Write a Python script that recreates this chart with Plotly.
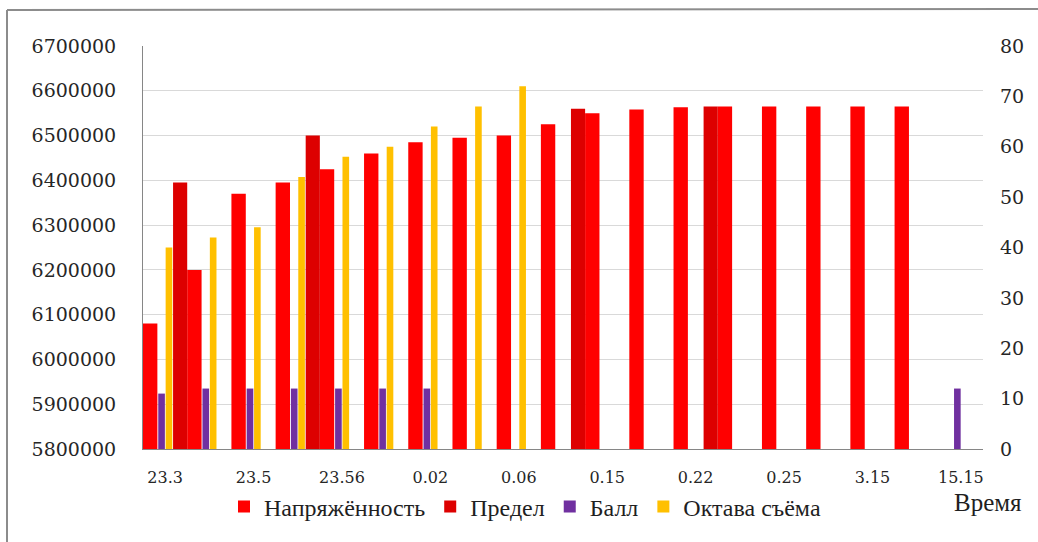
import plotly.graph_objects as go

# Time points (every other one is labelled on the axis)
time_labels = ["23.3", "23.5", "23.56", "0.02", "0.06", "0.15", "0.22", "0.25", "3.15", "15.15"]
positions = list(range(19))

# Primary axis series
napryazhennost = [6080000, 6200000, 6370000, 6395000, 6425000, 6460000, 6485000, 6495000,
                  6500000, 6525000, 6550000, 6558000, 6563000, 6565000, 6565000, 6565000,
                  6565000, 6565000, None]
predel = [6395000, None, None, 6500000, None, None, None, None, None, 6560000,
          None, None, 6565000, None, None, None, None, None, None]

# Secondary axis series
ball = [11, 12, 12, 12, 12, 12, 12, None, None, None, None, None, None, None,
        None, None, None, None, 12]
oktava = [40, 42, 44, 54, 58, 60, 64, 68, 72, None, None, None, None, None,
          None, None, None, None, None]

TICK_FONT = dict(family="DejaVu Serif", size=19, color="#262626")
TEXT_FONT = dict(family="Liberation Serif", size=24, color="#1f1f1f")

fig = go.Figure()
fig.add_bar(x=positions, y=napryazhennost, name="Напряжённость",
            marker=dict(color="#FF0000", line_width=0), offset=-0.5, width=0.325)
fig.add_bar(x=positions, y=predel, name="Предел",
            marker=dict(color="#DD0000", line_width=0), offset=0.18, width=0.32)
fig.add_bar(x=positions, y=ball, name="Балл", yaxis="y2",
            marker=dict(color="#7030A0", line_width=0), offset=-0.155, width=0.15)
fig.add_bar(x=positions, y=oktava, name="Октава съёма", yaxis="y2",
            marker=dict(color="#FFC000", line_width=0), offset=0.012, width=0.15)

W, H = 1038, 542
L, R, T, B = 143, 55, 46, 93
pw, ph = W - L - R, H - T - B


def px(x):
    return (x - L) / pw


def py(y):
    return (H - B - y) / ph


fig.update_layout(
    width=W, height=H,
    margin=dict(l=L, r=R, t=T, b=B),
    paper_bgcolor="white", plot_bgcolor="white",
    barmode="overlay",
    xaxis=dict(range=[-0.5, 18.5], tickmode="array",
               tickvals=positions[::2], ticktext=time_labels,
               showgrid=False, zeroline=False, showline=True,
               linecolor="#868686", linewidth=1, ticks="",
               ticklabelstandoff=14,
               tickfont=dict(family="DejaVu Serif", size=16, color="#262626")),
    yaxis=dict(range=[5800000, 6700000], dtick=100000, tickformat="d",
               showgrid=True, gridcolor="#D9D9D9", gridwidth=1,
               zeroline=False, showline=True, linecolor="#868686", linewidth=1,
               ticks="", ticklabelstandoff=22, tickfont=TICK_FONT),
    yaxis2=dict(range=[0, 80], dtick=10, overlaying="y", side="right",
                showgrid=False, zeroline=False, showline=False, ticks="",
                ticklabelstandoff=16, tickfont=TICK_FONT),
    legend=dict(orientation="h", x=px(224), xanchor="left",
                y=py(507), yanchor="middle", font=TEXT_FONT,
                bgcolor="rgba(0,0,0,0)", itemwidth=30, traceorder="normal"),
    showlegend=True,
    annotations=[dict(text="Время", xref="paper", yref="paper",
                      x=px(1024), y=py(502), xanchor="right", yanchor="middle",
                      showarrow=False, font=dict(family="Liberation Serif", size=25,
                                                 color="#1f1f1f"))],
    shapes=[
        dict(type="line", xref="paper", yref="paper", x0=px(7), x1=px(1040),
             y0=py(10), y1=py(9), line=dict(color="#8c8c8c", width=2)),
        dict(type="line", xref="paper", yref="paper", x0=px(7), x1=px(7),
             y0=py(10), y1=py(545), line=dict(color="#8c8c8c", width=2)),
    ],
)

fig.write_html("out.html")
